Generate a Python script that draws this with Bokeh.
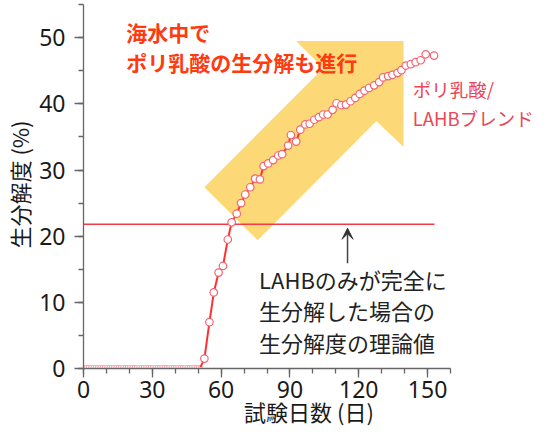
from bokeh.plotting import figure
from bokeh.models import Range1d, SingleIntervalTicker, Label, Arrow, VeeHead
from bokeh.embed import file_html
from bokeh.resources import INLINE

# ---- data ----
flat_days = [0, 1, 2, 3, 4, 5, 6, 7, 8, 9, 10, 11, 12, 13, 14, 15, 16, 17, 18, 19,
             20, 21, 22, 23, 24, 25, 26, 27, 28, 29, 30, 31, 32, 33, 34, 35, 36, 37,
             38, 39, 40, 41, 42, 43, 44, 45, 46, 47, 48, 49, 50, 51]
flat_vals = [0.2] * len(flat_days)

rise_days = [52.7, 54.9, 56.8, 58.9, 60.8, 62.9, 64.6, 66.8, 68.7, 70.5, 72.7, 74.8,
             76.9, 78.5, 80.5, 82.7, 84.9, 86.6, 89.2, 90.4, 92.7, 94.5, 96.7, 98.6,
             100.6, 102.6, 104.5, 106.4, 108.6, 110.3, 112.4, 114.4, 116.4, 118.5,
             120.4, 122.5, 124.5, 126.7, 128.9, 130.6, 132.8, 134.7, 136.9, 138.6,
             140.5, 142.7, 144.8, 147.0, 149.2, 152.8]
rise_vals = [1.5, 7.0, 11.5, 14.5, 15.5, 19.5, 22.1, 23.4, 25.0, 26.3, 27.4, 28.7,
             28.6, 30.6, 31.0, 31.5, 32.2, 32.4, 33.7, 35.3, 34.3, 36.1, 36.9, 37.0,
             37.6, 38.0, 38.4, 38.4, 39.1, 40.1, 39.8, 39.9, 40.4, 40.9, 41.5, 42.0,
             42.4, 42.8, 43.3, 44.0, 44.2, 44.4, 44.7, 45.1, 45.8, 46.0, 46.3, 46.6,
             47.5, 47.3]

theory_value = 21.8
theory_end = 153

arrow_x = [139.5, 92.7, 104.5, 52.7, 75.9, 127.7, 139.5]
arrow_y = [49.5, 49.5, 45.4, 27.4, 19.4, 37.4, 33.5]

x_bounds = (0, 160)
y_bounds = (0, 55)
x_ticks_interval = 30
y_ticks_interval = 10

JP = "Noto Sans CJK JP"

p = figure(width=534, height=430, output_backend="svg", toolbar_location=None,
           x_range=Range1d(0, 196.6), y_range=Range1d(0, 55.63),
           min_border_left=82, min_border_right=0, min_border_top=0, min_border_bottom=62)
p.outline_line_color = None
p.xgrid.visible = False
p.ygrid.visible = False
p.background_fill_color = "white"

# big arrow
p.patch(arrow_x, arrow_y, fill_color="#FDD877", line_color=None)

# theory line
p.segment(x0=[0], y0=[theory_value], x1=[theory_end], y1=[theory_value],
          line_color="#F03C46", line_width=1.5)

# data
p.line(flat_days, flat_vals, line_color="#F6A8B0", line_width=1)
p.scatter(flat_days, flat_vals, size=3.5, marker="circle", fill_color="white",
          line_color="#F4A0A8", line_width=1)
p.line([flat_days[-1]] + rise_days, [flat_vals[-1]] + rise_vals,
       line_color="#FF3030", line_width=2)
p.scatter(rise_days, rise_vals, size=7.5, marker="circle", fill_color="white",
          line_color="#F26474", line_width=1.2)

# axes
for ax in (p.xaxis, p.yaxis):
    ax.axis_line_color = "#666666"
    ax.axis_line_width = 1.3
    ax.major_tick_line_color = "#666666"
    ax.minor_tick_line_color = "#666666"
    ax.major_tick_line_width = 1.3
    ax.minor_tick_line_width = 1.3
    ax.major_tick_in = 0
    ax.minor_tick_in = 0
    ax.major_tick_out = 9
    ax.minor_tick_out = 5
    ax.major_label_text_font = "Noto Sans"
    ax.major_label_text_font_size = "23px"
    ax.major_label_text_color = "#1a1a1a"
    ax.axis_label_text_font = JP
    ax.axis_label_text_font_size = "22px"
    ax.axis_label_text_font_style = "normal"
    ax.axis_label_text_color = "#1a1a1a"

p.xaxis.bounds = x_bounds
p.yaxis.bounds = y_bounds
p.xaxis.ticker = SingleIntervalTicker(interval=x_ticks_interval, num_minor_ticks=3)
p.yaxis.ticker = SingleIntervalTicker(interval=y_ticks_interval, num_minor_ticks=2)
p.xaxis.axis_label = "試験日数 (日)"
p.yaxis.axis_label = "生分解度 (%)"
p.xaxis.major_label_standoff = 3
p.xaxis.axis_label_standoff = -6
p.yaxis.major_label_standoff = 9
p.yaxis.axis_label_standoff = 1

# texts
title_lines = ["海水中で", "ポリ乳酸の生分解も進行"]
title_y = [50.8, 46.4]
for t, yy in zip(title_lines, title_y):
    p.add_layout(Label(x=18.6, y=yy, text=t, text_font=JP, text_font_size="21px",
                       text_font_style="bold", text_color="#FF3A10",
                       text_baseline="middle", text_align="left"))

series_lines = ["ポリ乳酸/", "LAHBブレンド"]
series_y = [42.3, 37.9]
for t, yy in zip(series_lines, series_y):
    p.add_layout(Label(x=143.5, y=yy, text=t, text_font=JP, text_font_size="18.5px",
                       text_color="#EC4656", text_baseline="middle", text_align="left"))

note_lines = ["LAHBのみが完全に", "生分解した場合の", "生分解度の理論値"]
note_y = [13.6, 8.8, 4.0]
for t, yy in zip(note_lines, note_y):
    p.add_layout(Label(x=76.5, y=yy, text=t, text_font=JP, text_font_size="22px",
                       text_color="#222222", text_baseline="middle", text_align="left"))

p.add_layout(Arrow(end=VeeHead(size=11, fill_color="#333333", line_color="#333333"),
                   x_start=115.1, y_start=15.9, x_end=115.1, y_end=21.2,
                   line_color="#444444", line_width=1.5))

open("out.html", "w").write(file_html(p, INLINE))
